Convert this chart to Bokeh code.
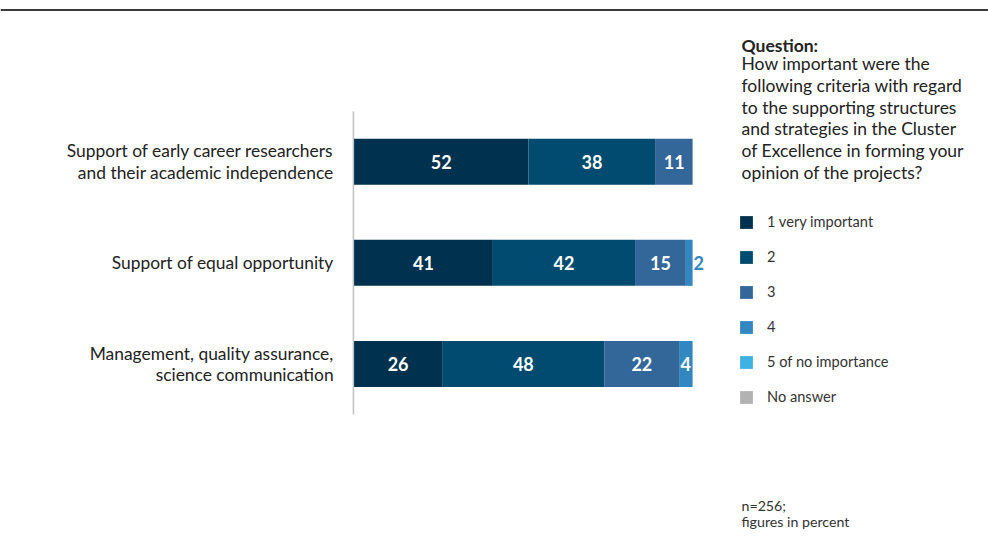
from bokeh.plotting import figure
from bokeh.models import ColumnDataSource, Range1d, Label, Span, Legend
from bokeh.core.properties import value
from bokeh.embed import file_html
from bokeh.resources import INLINE

# ---- data ----
categories = [
    "Support of early career researchers\nand their academic independence",
    "Support of equal opportunity",
    "Management, quality assurance,\nscience communication",
]
series_names = ["1 very important", "2", "3", "4", "5 of no importance", "No answer"]
s1 = [52, 41, 26]
s2 = [38, 42, 48]
s3 = [11, 15, 22]
s4 = [0, 2, 4]
s5 = [0, 0, 0]
s_na = [0, 0, 0]
colors = ["#00324f", "#004b6f", "#336699", "#3387c1", "#3eb1e5", "#b2b2b2"]
question_title = "Question:"
question_text = ("How important were the\nfollowing criteria with regard\nto the supporting structures\n"
                 "and strategies in the Cluster\nof Excellence in forming your\nopinion of the projects?")
footnote = "n=256;\nfigures in percent"

FONT = "Lato"
W, H = 988, 540

series = [s1, s2, s3, s4, s5, s_na]
keys = ["s1", "s2", "s3", "s4", "s5", "na"]
rows = list(range(len(categories)))
totals = [sum(s[i] for s in series) for i in rows]

data = {"row": rows, "cat": categories}
for k, s in zip(keys, series):
    data[k] = [s[i] / totals[i] * 100 for i in rows]
source = ColumnDataSource(data)

px_per_unit = 3.385
x0_px = 353.6
row_pitch = 101.15
row0_px = 161.2

p = figure(width=W, height=H, output_backend="svg", toolbar_location=None,
           x_range=Range1d(-x0_px / px_per_unit, (W - x0_px) / px_per_unit),
           y_range=Range1d((H - row0_px) / row_pitch, -row0_px / row_pitch),
           x_axis_location=None, y_axis_location=None, min_border=0,
           outline_line_color=None)
p.grid.visible = False
p.background_fill_color = "white"

# axis line
p.segment(x0=[-0.2], y0=[-0.5], x1=[-0.2], y1=[len(categories) - 0.5],
          line_color="#c4c4c4", line_width=1.6)

renderers = p.hbar_stack(keys, y="row", height=0.455, color=colors, source=source,
                         line_color=None, line_width=0)

# category labels
p.text(x=[-6.05] * len(rows), y=rows, text=categories, text_align="right",
       text_baseline="middle", text_font=value(FONT), text_font_size="17.4px",
       text_color="#222222", text_line_height=1.02)

# value labels
lx, ly, lt, lc, la = [], [], [], [], []
for i in rows:
    cum = 0.0
    for k, s, c in zip(keys, series, colors):
        w = data[k][i]
        v = s[i]
        if v > 0:
            if v >= 3:
                lx.append(cum + w / 2); lc.append("white"); la.append("center")
            else:
                lx.append(cum + w + 0.3); lc.append(c); la.append("left")
            ly.append(i); lt.append(str(v))
        cum += w
vsrc = ColumnDataSource(dict(x=lx, y=ly, t=lt, c=lc, a=la))
p.text(x="x", y="y", text="t", text_color="c", text_align="a", source=vsrc,
       text_baseline="middle", text_font=value(FONT), text_font_size="18px",
       text_font_style="bold")

# legend
legend = Legend(items=[(n, [r]) for n, r in zip(series_names, renderers)],
                location=(738, 135), orientation="vertical",
                glyph_width=16, glyph_height=16, label_standoff=13,
                label_text_font=FONT, label_text_font_size="14.6px",
                label_text_color="#333333", spacing=18, padding=0, margin=0,
                border_line_color=None, background_fill_alpha=0, label_height=13)
p.add_layout(legend, "center")

# question text
p.add_layout(Label(x=741, y=H - 45, x_units="screen", y_units="screen", text=question_title,
                   text_font=FONT, text_font_size="17.5px", text_font_style="bold",
                   text_color="#222222", text_baseline="middle"))
p.add_layout(Label(x=741, y=H - 117.5, x_units="screen", y_units="screen", text=question_text,
                   text_font=FONT, text_font_size="17.5px", text_color="#222222",
                   text_baseline="middle", text_line_height=1.03))
p.add_layout(Label(x=741, y=H - 513, x_units="screen", y_units="screen", text=footnote,
                   text_font=FONT, text_font_size="14.2px", text_color="#333333",
                   text_baseline="middle", text_line_height=0.95))

# top rule
p.add_layout(Span(location=H - 9.5, location_units="screen", dimension="width",
                  line_color="#3c3c3c", line_width=2))

open("out.html", "w").write(file_html(p, INLINE))
